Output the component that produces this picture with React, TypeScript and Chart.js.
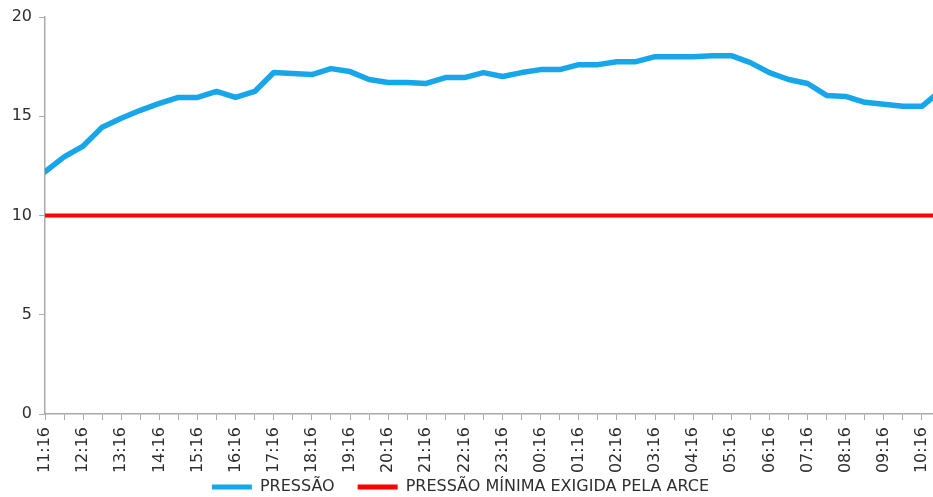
import React, { useEffect, useRef } from "react";
import { Chart, registerables } from "chart.js";

Chart.register(...registerables);

// Half-hourly readings
const TIMES = [
  "11:16", "11:46", "12:16", "12:46", "13:16", "13:46", "14:16", "14:46",
  "15:16", "15:46", "16:16", "16:46", "17:16", "17:46", "18:16", "18:46",
  "19:16", "19:46", "20:16", "20:46", "21:16", "21:46", "22:16", "22:46",
  "23:16", "23:46", "00:16", "00:46", "01:16", "01:46", "02:16", "02:46",
  "03:16", "03:46", "04:16", "04:46", "05:16", "05:46", "06:16", "06:46",
  "07:16", "07:46", "08:16", "08:46", "09:16", "09:46", "10:16", "10:46",
];

const PRESSAO = [
  12.2, 12.95, 13.5, 14.45, 14.9, 15.3, 15.65, 15.95,
  15.95, 16.25, 15.95, 16.25, 17.2, 17.15, 17.1, 17.4,
  17.25, 16.85, 16.7, 16.7, 16.65, 16.95, 16.95, 17.2,
  17.0, 17.2, 17.35, 17.35, 17.6, 17.6, 17.75, 17.75,
  18.0, 18.0, 18.0, 18.05, 18.05, 17.7, 17.2, 16.85,
  16.65, 16.05, 16.0, 15.7, 15.6, 15.5, 15.5, 16.3,
];

const PRESSAO_MINIMA = 10;

const Y_TICKS = [0, 5, 10, 15, 20];

const SERIES_LABELS = ["PRESSÃO", "PRESSÃO MÍNIMA EXIGIDA PELA ARCE"];

export default function App() {
  const ref = useRef<HTMLCanvasElement | null>(null);

  useEffect(() => {
    if (!ref.current) return;
    const tickFont = { family: "DejaVu Sans", size: 16 };
    const textColor = "#2e2e2e";
    const chart = new Chart(ref.current, {
      type: "line",
      data: {
        datasets: [
          {
            label: SERIES_LABELS[0],
            data: PRESSAO.map((v, i) => ({ x: i, y: v })),
            borderColor: "#17a6ea",
            backgroundColor: "#17a6ea",
            borderWidth: 5.5,
            pointRadius: 0,
            tension: 0,
            borderJoinStyle: "round",
            borderCapStyle: "round",
          },
          {
            label: SERIES_LABELS[1],
            data: TIMES.map((_, i) => ({ x: i, y: PRESSAO_MINIMA })),
            borderColor: "#ff0000",
            backgroundColor: "#ff0000",
            borderWidth: 4,
            pointRadius: 0,
          },
        ],
      },
      options: {
        animation: false,
        responsive: true,
        maintainAspectRatio: false,
        layout: { padding: { left: -12, right: 0, top: 17, bottom: 0 } },
        plugins: {
          tooltip: { enabled: false },
          legend: {
            position: "bottom",
            labels: {
              font: { family: "DejaVu Sans", size: 16 },
              color: textColor,
              boxWidth: 40,
              boxHeight: 5,
              padding: 23,
              generateLabels: (c: any) =>
                c.data.datasets.map((ds: any, i: number) => ({
                  text: ds.label,
                  fillStyle: ds.borderColor,
                  strokeStyle: ds.borderColor,
                  lineWidth: 0,
                  hidden: false,
                  datasetIndex: i,
                  fontColor: textColor,
                })),
            },
          },
        },
        scales: {
          x: {
            type: "linear",
            min: 0,
            max: 46.58,
            afterFit: (s: any) => {
              s.height = 42;
              s.paddingRight = 0;
              s.paddingLeft = 0;
              s._computeLabelArea = () => undefined;
            },
            grid: {
              drawOnChartArea: false,
              drawTicks: true,
              tickLength: 6,
              color: "#aaa",
            },
            border: { color: "#aaa", width: 1.5 },
            ticks: {
              stepSize: 1,
              autoSkip: false,
              includeBounds: false,
              maxRotation: 90,
              minRotation: 90,
              padding: 7,
              color: textColor,
              font: tickFont,
              callback: (v: any) => {
                const t = TIMES[Math.round(Number(v))];
                return t && t.endsWith(":16") ? t : "";
              },
            },
          },
          y: {
            min: 0,
            max: 20,
            afterFit: (s: any) => {
              s.width = 57;
            },
            afterBuildTicks: (s: any) => {
              s.ticks = Y_TICKS.map((v) => ({ value: v }));
            },
            grid: {
              drawOnChartArea: false,
              drawTicks: true,
              tickLength: 6,
              color: "#aaa",
            },
            border: { color: "#aaa", width: 1.5 },
            ticks: {
              padding: 7,
              color: textColor,
              font: tickFont,
            },
          },
        },
      },
    });
    return () => chart.destroy();
  }, []);

  return (
    <div
      style={{
        position: "fixed",
        left: 0,
        top: 0,
        width: 933,
        height: 505,
        background: "#fff",
      }}
    >
      <canvas ref={ref} />
    </div>
  );
}
